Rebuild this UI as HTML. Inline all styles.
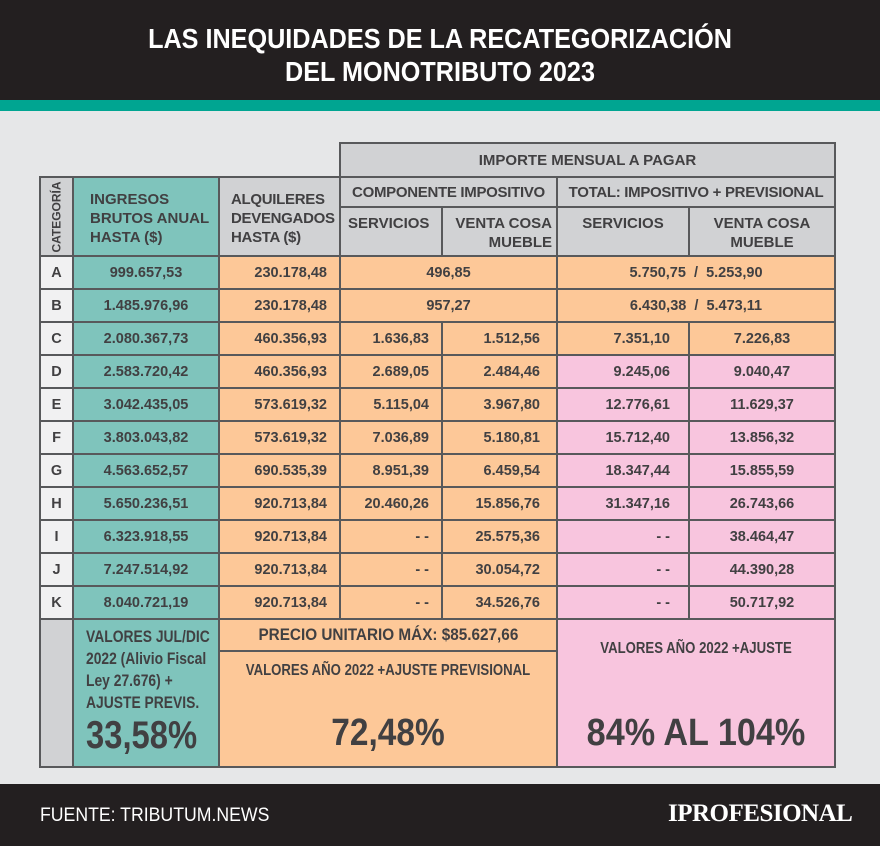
<!DOCTYPE html>
<html><head><meta charset="utf-8"><style>
*{margin:0;padding:0;box-sizing:border-box}
body{width:880px;height:846px;background:#e6e7e8;position:relative;overflow:hidden;font-family:"Liberation Sans",sans-serif;color:#414042}
.top{position:absolute;left:0;top:0;width:880px;height:100px;background:#231f20}
.stripe{position:absolute;left:0;top:100px;width:880px;height:11px;background:#00a591}
.title{position:absolute;left:0;top:22px;width:880px;text-align:center;color:#fff;font-weight:bold;font-size:28px;line-height:33px;transform:scaleX(0.9)}
.foot{position:absolute;left:0;top:784px;width:880px;height:62px;background:#231f20}
.bd{position:absolute;background:#58595b}
.c{position:absolute;display:flex;align-items:center;font-weight:bold;font-size:14.5px;white-space:nowrap}
.ct{justify-content:center;text-align:center}
.r{justify-content:flex-end;padding-right:12px}
.g{background:#d1d2d4}.t{background:#7fc4bc}.o{background:#fdc898}.p{background:#f8c5de}.w{background:#f1f1f2}
.h{font-size:15px;line-height:19px}
</style></head><body>
<div class="top"></div><div class="stripe"></div>
<div class="title">LAS INEQUIDADES DE LA RECATEGORIZACIÓN<br>DEL MONOTRIBUTO 2023</div>
<div class="bd" style="left:339px;top:142px;width:497px;height:36px"></div>
<div class="bd" style="left:39px;top:176px;width:797px;height:592px"></div>
<div id="cells"></div>
<div class="foot"></div>
<div style="position:absolute;left:40px;top:805px;color:#fff;font-size:19px;transform:scaleX(0.93);transform-origin:left">FUENTE: TRIBUTUM.NEWS</div>
<div style="position:absolute;left:668px;top:800px;color:#fff;font-size:25px;font-family:'Liberation Serif',serif;font-weight:bold;letter-spacing:-0.5px">IPROFESIONAL</div>
<script>
var H=document.getElementById('cells'),s='';
function cell(x1,x2,y1,y2,cls,txt,st){s+='<div class="c '+cls+'" style="left:'+(x1+1)+'px;top:'+(y1+1)+'px;width:'+(x2-x1-2)+'px;height:'+(y2-y1-2)+'px;'+(st||'')+'">'+txt+'</div>';}
cell(340,835,143,177,'g ct h','IMPORTE MENSUAL A PAGAR');
cell(40,73,177,256,'g ct','<span style="display:inline-block;transform:rotate(-90deg);font-size:12px;font-weight:bold">CATEGORÍA</span>');
cell(73,219,177,256,'t h','INGRESOS<br>BRUTOS ANUAL<br>HASTA ($)','padding-left:16px;align-items:flex-start;padding-top:12px');
cell(219,340,177,256,'g h','ALQUILERES<br>DEVENGADOS<br>HASTA ($)','padding-left:11px;align-items:flex-start;padding-top:12px;letter-spacing:-0.3px');
cell(340,557,177,207,'g ct h','COMPONENTE IMPOSITIVO','letter-spacing:-0.3px');
cell(557,835,177,207,'g ct h','TOTAL: IMPOSITIVO + PREVISIONAL','letter-spacing:-0.3px');
cell(340,442,207,256,'g h','SERVICIOS','padding-left:7px;align-items:flex-start;padding-top:6px');
cell(442,557,207,256,'g h','VENTA COSA<br>MUEBLE','justify-content:flex-end;text-align:right;padding-right:4px;align-items:flex-start;padding-top:6px');
cell(557,689,207,256,'g h ct','SERVICIOS','align-items:flex-start;padding-top:6px');
cell(689,835,207,256,'g h ct','VENTA COSA<br>MUEBLE','align-items:flex-start;padding-top:6px');
var D=[['A','999.657,53','230.178,48','496,85','','5.750,75 / 5.253,90',''],
['B','1.485.976,96','230.178,48','957,27','','6.430,38 / 5.473,11',''],
['C','2.080.367,73','460.356,93','1.636,83','1.512,56','7.351,10','7.226,83'],
['D','2.583.720,42','460.356,93','2.689,05','2.484,46','9.245,06','9.040,47'],
['E','3.042.435,05','573.619,32','5.115,04','3.967,80','12.776,61','11.629,37'],
['F','3.803.043,82','573.619,32','7.036,89','5.180,81','15.712,40','13.856,32'],
['G','4.563.652,57','690.535,39','8.951,39','6.459,54','18.347,44','15.855,59'],
['H','5.650.236,51','920.713,84','20.460,26','15.856,76','31.347,16','26.743,66'],
['I','6.323.918,55','920.713,84','- -','25.575,36','- -','38.464,47'],
['J','7.247.514,92','920.713,84','- -','30.054,72','- -','44.390,28'],
['K','8.040.721,19','920.713,84','- -','34.526,76','- -','50.717,92']];
D.forEach(function(r,i){var y=256+i*33,y2=y+33;
cell(40,73,y,y2,'w ct',r[0]);
cell(73,219,y,y2,'t ct',r[1]);
cell(219,340,y,y2,'o r',r[2]);
var pc=i<3?'o':'p';
if(i<2){cell(340,557,y,y2,'o ct',r[3]);cell(557,835,y,y2,'o ct',r[5].replace(' / ','&nbsp; / &nbsp;'));}
else{cell(340,442,y,y2,'o r',r[3]);cell(442,557,y,y2,'o r',r[4],'padding-right:16px');
cell(557,689,y,y2,pc+' r',r[5],'padding-right:18px');cell(689,835,y,y2,pc+' ct',r[6]);}
});
cell(40,73,619,767,'g','');
cell(73,219,619,767,'t','<div style="transform:scaleX(0.84);transform-origin:left top"><div style="font-size:16.5px;line-height:22px;padding-top:6px">VALORES JUL/DIC<br>2022 (Alivio Fiscal<br>Ley 27.676) +<br>AJUSTE PREVIS.</div><div style="font-size:39px;line-height:40px;margin-top:2px">33,58%</div></div>','align-items:flex-start;padding-left:12px');
cell(219,557,619,651,'o ct','<span style="display:inline-block;transform:scaleX(0.9)">PRECIO UNITARIO MÁX: $85.627,66</span>','font-size:17px');
cell(219,557,651,767,'o','<div style="width:100%;text-align:center"><div style="font-size:15.5px;padding-top:10px;transform:scaleX(0.85)">VALORES AÑO 2022 +AJUSTE PREVISIONAL</div><div style="font-size:38px;margin-top:32px;transform:scaleX(0.88)">72,48%</div></div>','align-items:flex-start');
cell(557,835,619,767,'p','<div style="width:100%;text-align:center"><div style="font-size:15.5px;padding-top:20px;transform:scaleX(0.85)">VALORES AÑO 2022 +AJUSTE</div><div style="font-size:38px;margin-top:54px;transform:scaleX(0.9)">84% AL 104%</div></div>','align-items:flex-start');
H.innerHTML=s;
</script>
</body></html>
